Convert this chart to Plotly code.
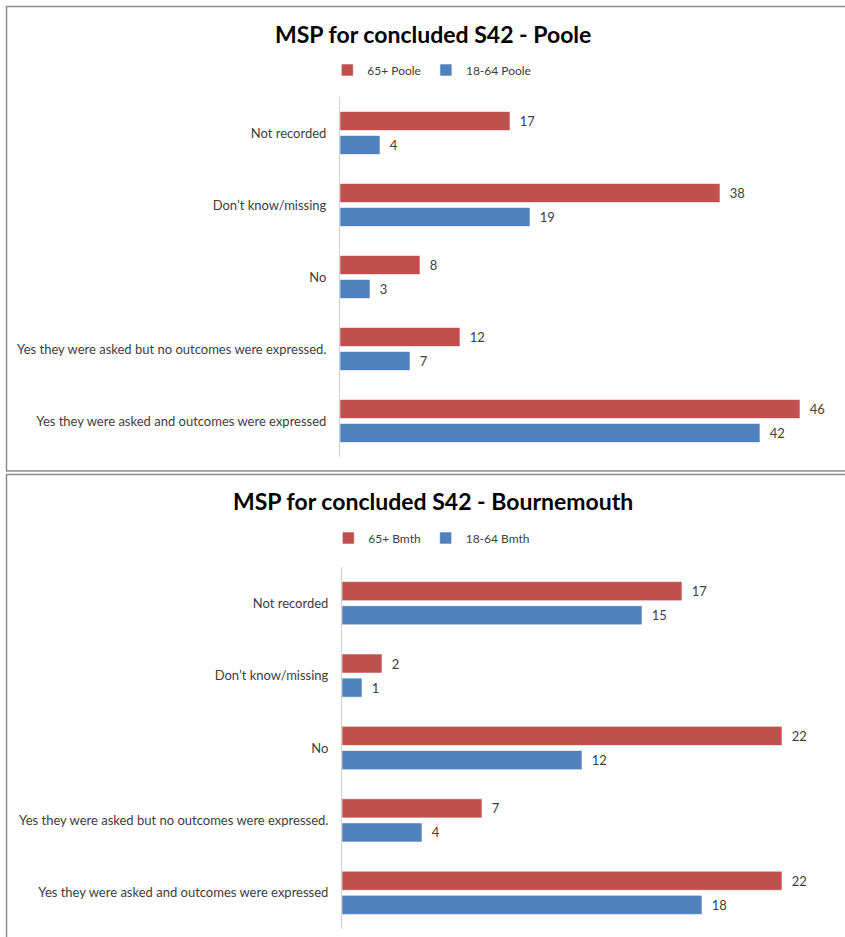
import plotly.graph_objects as go

categories = [
    "Not recorded",
    "Don\u2019t know/missing",
    "No",
    "Yes they were asked but no outcomes were expressed.",
    "Yes they were asked and outcomes were expressed",
]
poole_65 = [17, 38, 8, 12, 46]
poole_1864 = [4, 19, 3, 7, 42]
bmth_65 = [17, 2, 22, 7, 22]
bmth_1864 = [15, 1, 12, 4, 18]

title_top = "MSP for concluded S42 - Poole"
title_bottom = "MSP for concluded S42 - Bournemouth"

RED = "#C0504D"
BLUE = "#4F81BD"
TXT = "#404040"
FONT = "Lato"
W, H = 845, 937

def px_x(x):
    return x / W

def px_y(y):
    return 1 - y / H

fig = go.Figure()

def add(vals, name, color, xa, ya, legend):
    fig.add_trace(go.Bar(
        y=categories, x=vals, name=name, orientation="h",
        marker=dict(color=color, line=dict(color="rgba(255,255,255,0.6)", width=1)),
        text=["\u00a0\u00a0" + str(v) for v in vals], textposition="outside",
        textfont=dict(size=13, color=TXT, family=FONT),
        cliponaxis=False, xaxis=xa, yaxis=ya, legend=legend,
    ))

add(poole_65, "65+ Poole", RED, "x", "y", "legend")
add(poole_1864, "18-64 Poole", BLUE, "x", "y", "legend")
add(bmth_65, "65+ Bmth", RED, "x2", "y2", "legend2")
add(bmth_1864, "18-64 Bmth", BLUE, "x2", "y2", "legend2")

xcommon = dict(showgrid=False, zeroline=False, showticklabels=False, showline=False, ticks="")
ycommon = dict(type="category", categoryorder="array", categoryarray=categories,
               autorange="reversed", showgrid=False, zeroline=False,
               showline=True, linecolor="#D0D0D0", linewidth=1, ticks="",
               ticklabelstandoff=10,
               tickfont=dict(size=13, color=TXT, family=FONT))

fig.update_layout(
    width=W, height=H,
    margin=dict(l=0, r=0, t=0, b=0),
    paper_bgcolor="white", plot_bgcolor="white",
    barmode="group", bargap=0.333, bargroupgap=0.208,
    font=dict(family=FONT, color=TXT),
    showlegend=True,
    xaxis=dict(domain=[px_x(340), px_x(840)], range=[0, 50], anchor="y", **xcommon),
    yaxis=dict(domain=[px_y(457), px_y(97)], anchor="x", **ycommon),
    xaxis2=dict(domain=[px_x(342), px_x(842)], range=[0, 25], anchor="y2", **xcommon),
    yaxis2=dict(domain=[px_y(929), px_y(567)], anchor="x2", **ycommon),
    legend=dict(orientation="h", x=0.511, xanchor="center", y=px_y(70), yanchor="middle",
                font=dict(size=12, color=TXT, family=FONT), itemwidth=30,
                bgcolor="rgba(0,0,0,0)"),
    legend2=dict(orientation="h", x=0.511, xanchor="center", y=px_y(538), yanchor="middle",
                 font=dict(size=12, color=TXT, family=FONT), itemwidth=30,
                 bgcolor="rgba(0,0,0,0)"),
    annotations=[
        dict(text="<b>" + title_top + "</b>", x=px_x(433), y=px_y(34), xref="paper", yref="paper",
             showarrow=False, font=dict(size=23, color="black", family=FONT), xanchor="center", yanchor="middle"),
        dict(text="<b>" + title_bottom + "</b>", x=px_x(433), y=px_y(501), xref="paper", yref="paper",
             showarrow=False, font=dict(size=23, color="black", family=FONT), xanchor="center", yanchor="middle"),
    ],
    shapes=[
        dict(type="rect", xref="paper", yref="paper", x0=px_x(6.5), x1=px_x(860), y0=px_y(471), y1=px_y(6.5),
             line=dict(color="#8C8C8C", width=1.5), layer="below"),
        dict(type="rect", xref="paper", yref="paper", x0=px_x(6.5), x1=px_x(860), y0=px_y(950), y1=px_y(474.5),
             line=dict(color="#8C8C8C", width=1.5), layer="below"),
    ],
)

fig.write_html("out.html", config={"displayModeBar": False},
               post_script="document.body.style.margin='0';document.body.style.overflow='hidden';")
